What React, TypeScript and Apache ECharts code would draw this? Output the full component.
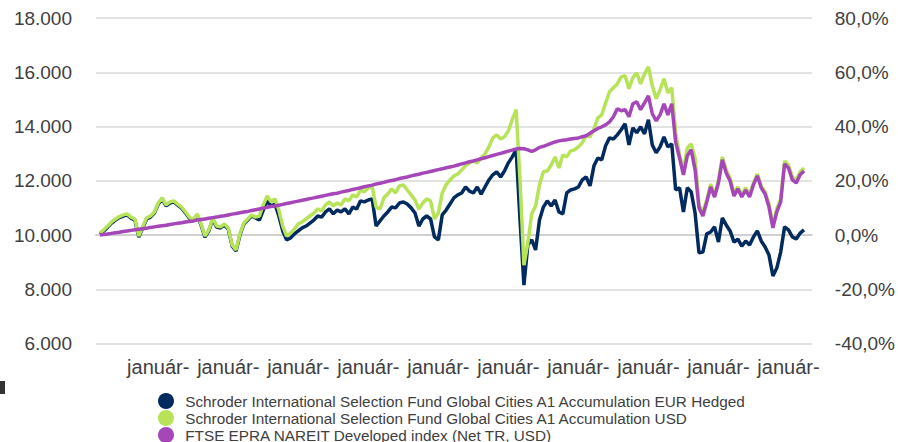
import React, { useEffect, useRef } from "react";
import * as echarts from "echarts";

const seriesNames = [
  "Schroder International Selection Fund Global Cities A1 Accumulation EUR Hedged",
  "Schroder International Selection Fund Global Cities A1 Accumulation USD",
  "FTSE EPRA NAREIT Developed index (Net TR, USD)",
];

const tickLabel = "január-";
const tickIndices = [16, 34, 52, 70, 88, 106, 124, 142, 160, 178];
const pointCount = 185;

// EUR Hedged (left axis)
const eurHedged = [
  10030, 10150, 10290, 10440, 10550, 10640, 10700, 10740, 10620, 10550,
  9920, 10260, 10590, 10660, 10810, 11140, 11330, 11070, 11180, 11220,
  11100, 10990, 10810, 10620, 10510, 10740, 10370, 9920, 10150, 10590,
  10290, 10260, 10370, 10220, 9590, 9410, 10000, 10400, 10550, 10700,
  10630, 10550, 10920, 11260, 11070, 11140, 10700, 10150, 9820, 9890,
  10040, 10150, 10260, 10330, 10440, 10550, 10700, 10660, 10850, 10960,
  10780, 10920, 10850, 10960, 10780, 11030, 10960, 11260, 11220, 11290,
  11330, 10330, 10520, 10700, 10850, 11030, 11000, 11180, 11220, 11140,
  11000, 10810, 10330, 10590, 10700, 10590, 9930, 9820, 10740, 10920,
  11140, 11370, 11480, 11550, 11770, 11620, 11550, 11770, 11510, 11770,
  12030, 12220, 12330, 12140, 12360, 12660, 12880, 13140, 10550, 8150,
  9630, 9820, 9450, 10550, 11030, 11260, 11070, 11290, 10850, 10780,
  11550, 11660, 11700, 11770, 12030, 12140, 11810, 12550, 12840, 12770,
  13290, 13580, 13540, 13690, 13880, 14100, 13320, 13950, 13770, 13990,
  13730, 14250, 13320, 13030, 13250, 13620, 13250, 13360, 11660, 11740,
  10850, 11740, 11590, 10810, 9340, 9370, 10040, 10110, 10300, 9740,
  10630, 10370, 10150, 9740, 9850, 9590, 9780, 9630, 9930, 10150,
  9780, 9560, 9260, 8490, 8780, 9370, 10300, 10190, 9930, 9850,
  10070, 10190,
];

// USD (left axis)
const usd = [
  10070, 10190, 10330, 10480, 10590, 10680, 10740, 10780, 10660, 10590,
  9960, 10300, 10630, 10700, 10850, 11180, 11370, 11110, 11220, 11260,
  11140, 11030, 10850, 10660, 10550, 10780, 10410, 9960, 10190, 10630,
  10330, 10300, 10410, 10260, 9630, 9450, 10040, 10440, 10590, 10740,
  10660, 10700, 11110, 11440, 11220, 11330, 10920, 10330, 9960, 10070,
  10220, 10410, 10480, 10590, 10700, 10810, 10960, 10890, 11110, 11220,
  11070, 11180, 11110, 11330, 11260, 11480, 11400, 11660, 11590, 11740,
  11770, 11030, 10960, 11370, 11510, 11700, 11550, 11810, 11850, 11660,
  11480, 11290, 10960, 11180, 11330, 11260, 10590, 10810, 11550, 11850,
  12030, 12180, 12250, 12400, 12550, 12660, 12730, 12660, 12840, 12990,
  13250, 13580, 13690, 13540, 13620, 13840, 14250, 14620, 12000, 8890,
  9700, 10780, 11070, 11850, 12330, 12360, 12580, 12880, 12470, 12950,
  12880, 13100, 13140, 13250, 13400, 13690, 13620, 13910, 14320, 14430,
  14870, 15280, 15430, 15570, 15830, 15870, 15390, 15800, 15980, 15570,
  15940, 16200, 15500, 15020, 15350, 15760, 15240, 15430, 13770, 12950,
  12400, 13210, 13360, 12840, 11110, 10850, 11290, 11880, 11480, 12030,
  12880, 12400, 12100, 11550, 11770, 11480, 11740, 11480, 11920, 12250,
  11810, 11590, 11140, 10370, 10960, 11330, 12730, 12580, 12140, 12030,
  12330, 12470,
];

// FTSE EPRA NAREIT (right axis, %)
const ftse = [
  0.0, 0.2, 0.4, 0.6, 0.8, 1.0, 1.3, 1.5, 1.7, 1.9,
  2.1, 2.3, 2.5, 2.8, 3.0, 3.2, 3.4, 3.6, 3.9, 4.1,
  4.3, 4.5, 4.8, 5.0, 5.2, 5.5, 5.7, 5.9, 6.2, 6.4,
  6.6, 6.9, 7.1, 7.4, 7.7, 7.9, 8.2, 8.5, 8.7, 9.0,
  9.3, 9.6, 9.9, 10.2, 10.5, 10.7, 11.0, 11.3, 11.6, 11.9,
  12.2, 12.5, 12.8, 13.1, 13.4, 13.7, 14.0, 14.3, 14.6, 14.9,
  15.2, 15.4, 15.8, 16.1, 16.4, 16.8, 17.1, 17.4, 17.8, 18.1,
  18.4, 18.8, 19.1, 19.4, 19.8, 20.1, 20.4, 20.8, 21.1, 21.4,
  21.8, 22.1, 22.4, 22.8, 23.1, 23.4, 23.8, 24.1, 24.4, 24.8,
  25.1, 25.4, 25.8, 26.2, 26.6, 27.0, 27.3, 27.7, 28.1, 28.5,
  28.9, 29.3, 29.7, 30.1, 30.5, 30.9, 31.3, 31.7, 31.9, 31.8,
  31.4, 30.8, 31.4, 32.3, 32.7, 33.2, 33.8, 34.3, 34.7, 34.9,
  35.1, 35.4, 35.6, 35.8, 36.2, 36.6, 37.5, 38.4, 39.3, 39.9,
  40.6, 41.7, 43.6, 46.5, 45.8, 46.2, 43.6, 48.4, 49.1, 46.2,
  48.7, 51.3, 44.7, 42.1, 44.3, 48.4, 44.3, 48.4, 34.3, 28.4,
  22.2, 29.2, 31.4, 24.0, 10.0, 7.0, 12.2, 17.7, 14.0, 19.2,
  27.7, 22.9, 19.9, 14.4, 17.0, 14.0, 16.6, 14.0, 18.5, 21.8,
  17.4, 15.1, 10.3, 2.6, 8.5, 12.2, 26.2, 24.7, 20.3, 19.2,
  22.2, 23.6,
];

const colors = ["#012a5e", "#b6e357", "#a546b9"];
const font = "'Liberation Sans', Arial, sans-serif";
const textColor = "#404040";

function pad(values: number[]) {
  const out: (number | null)[] = [null, ...values];
  while (out.length < pointCount) out.push(null);
  return out;
}

export default function App() {
  const ref = useRef<HTMLDivElement>(null);
  useEffect(() => {
    if (!ref.current) return;
    const chart = echarts.init(ref.current, null, { renderer: "svg" });
    const categories = Array.from({ length: pointCount }, (_, i) => String(i));
    chart.setOption({
      animation: false,
      color: colors,
      textStyle: { fontFamily: font },
      grid: { left: 96, right: 85, top: 18, bottom: 98.5 },
      legend: {
        orient: "vertical",
        left: 158,
        top: 393,
        height: 120,
        padding: 0,
        itemGap: 1,
        itemWidth: 28.5,
        itemHeight: 16,
        icon: "circle",
        textStyle: { fontSize: 15.3, color: textColor, fontFamily: font, lineHeight: 16 },
        data: seriesNames,
      },
      xAxis: {
        type: "category",
        data: categories,
        boundaryGap: false,
        axisLine: { show: true, lineStyle: { color: "#d0d0d0", width: 2 } },
        axisTick: { show: false },
        splitLine: { show: false },
        axisLabel: {
          interval: (i: number) => tickIndices.includes(i),
          formatter: () => tickLabel,
          fontSize: 20,
          color: textColor,
          fontFamily: font,
          margin: 13,
        },
      },
      yAxis: [
        {
          type: "value",
          position: "left",
          min: 6000,
          max: 18000,
          interval: 2000,
          axisLine: { show: false },
          axisTick: { show: false },
          splitLine: { lineStyle: { color: "#e2e2e2", width: 2 } },
          axisLabel: {
            formatter: (v: number) => (v / 1000).toFixed(3),
            fontSize: 19,
            color: textColor,
            fontFamily: font,
            margin: 24,
          },
        },
        {
          type: "value",
          position: "right",
          min: -40,
          max: 80,
          interval: 20,
          axisLine: { show: false },
          axisTick: { show: false },
          splitLine: { show: false },
          axisLabel: {
            formatter: (v: number) => v.toFixed(1).replace(".", ",") + "%",
            fontSize: 19,
            color: textColor,
            fontFamily: font,
            margin: 23,
          },
        },
      ],
      graphic: [
        { type: "rect", left: 0, top: 381, shape: { width: 5, height: 13 }, style: { fill: "#333" } },
      ],
      series: [
        {
          name: seriesNames[0],
          type: "line",
          yAxisIndex: 0,
          data: pad(eurHedged),
          showSymbol: false,
          symbol: "none",
          lineStyle: { width: 3.5, color: colors[0] },
          itemStyle: { color: colors[0] },
        },
        {
          name: seriesNames[1],
          type: "line",
          yAxisIndex: 0,
          data: pad(usd),
          showSymbol: false,
          symbol: "none",
          lineStyle: { width: 3.5, color: colors[1] },
          itemStyle: { color: colors[1] },
        },
        {
          name: seriesNames[2],
          type: "line",
          yAxisIndex: 1,
          data: pad(ftse),
          showSymbol: false,
          symbol: "none",
          lineStyle: { width: 3.5, color: colors[2] },
          itemStyle: { color: colors[2] },
        },
      ],
    });
    return () => chart.dispose();
  }, []);
  return (
    <div
      ref={ref}
      style={{ position: "fixed", left: 0, top: 0, width: 898, height: 442, background: "#fff" }}
    />
  );
}
